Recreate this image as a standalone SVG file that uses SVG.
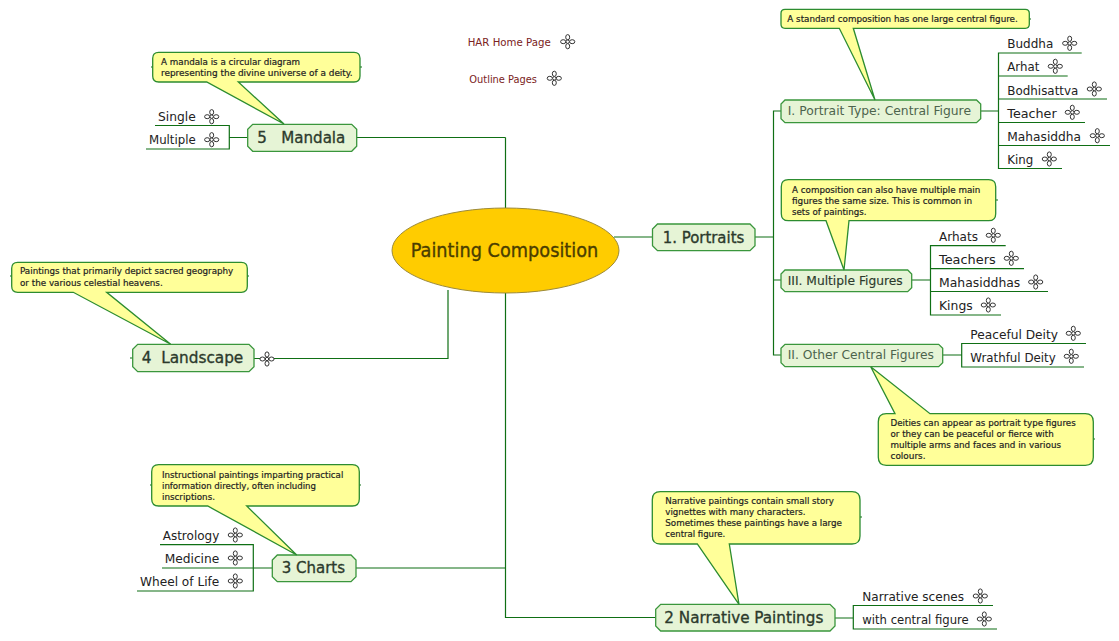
<svg xmlns="http://www.w3.org/2000/svg" width="1119" height="641" viewBox="0 0 1119 641">
<style>
text{font-family:"DejaVu Sans","Liberation Sans",sans-serif;white-space:pre}
.c{fill:none;stroke:#0f6f14;stroke-width:1.2}
.n{fill:#e6f4d6;stroke:#3a963c;stroke-width:1.3}
.b{fill:#ffff99;stroke:#2c8c30;stroke-width:1.3}
.t1{font-size:16px;fill:#2c3a2c;stroke:#2c3a2c;stroke-width:.35}
.t2{font-size:13px;fill:#2c3a2c;stroke:#2c3a2c;stroke-width:.15}
.t2g{font-size:13px;fill:#4d644d}
.l{font-size:13px;fill:#222}
.s{font-size:9px;fill:#222;stroke:#222;stroke-width:.2}
.r{font-size:11px;fill:#7a2222}
</style>
<defs>
<g id="ic" fill="#fff" stroke="#333" stroke-width="1">
<ellipse cx="0" cy="-4.5" rx="2" ry="2.6"/><ellipse cx="0" cy="4.5" rx="2" ry="2.6"/><ellipse cx="-4.5" cy="0" rx="2.6" ry="2"/><ellipse cx="4.5" cy="0" rx="2.6" ry="2"/><circle r="1.7"/>
</g>
</defs>
<g id="connectors" class="c">
<path class="c" d="M505.5 137.5V208M357 137.5H505.5M505.500 293V617.500H655.500M356 568H505.500M254 358.500H448V290M614 237H652M755 237H773.500M781 111H773.500V355H781M773.500 280H781"/>
<path class="c" d="M981 111H998.500M1081.700 53H998.500V168.500H1062M998.500 76H1067.700M998.500 99H1107M998.500 122.500H1085M998.500 145.500H1110"/>
<path class="c" d="M912 280H930.500M1005.700 245.700H930.500V315H1001M930.500 268.700H1024M930.500 291.500H1048"/>
<path class="c" d="M943 355H961.700M1086 343.500H961.700V367H1084"/>
<path class="c" d="M248 137.500H229.300M155 125.500H229.300V149H146"/>
<path class="c" d="M160 544.700H253.300V591H137M162 568H272"/>
<path class="c" d="M835 618H853.300M993 605.500H853.300V629H997"/>
<path class="c" d="M1029 19H1031M996 200H998M1093 439H1095M151 67H153M360 67H362M150 485H152M359 485H361M10 276H12M247 276H249M860 517H862M130 358H133"/>
</g>
<g id="center"><ellipse cx="505.500" cy="250.500" rx="113.500" ry="42.500" fill="#ffcc00" stroke="#9c8a3a" stroke-width="1"/><text x="410.700" y="256.700" font-size="19" fill="#4a3d00" stroke="#4a3d00" stroke-width=".35" textLength="187.600" lengthAdjust="spacingAndGlyphs">Painting Composition</text></g>

<g id="n1"><path class="n" d="M657.500 224H750L755 229V245.700L750 250.700H657.500L652.500 245.700V229Z"/><text class="t1" x="662.700" y="242.700" textLength="81.600" lengthAdjust="spacingAndGlyphs">1. Portraits</text></g>
<g id="nI"><path class="n" d="M785 100H976.500L980.700 104V118.700L976.500 122.700H785L781 118.700V104Z"/><text class="t2g" x="787.700" y="115" textLength="183.300" lengthAdjust="spacingAndGlyphs">I. Portrait Type: Central Figure</text></g>
<g id="nIII"><path class="n" d="M785 270H907.700L911.700 274V287.700L907.700 291.700H785L781 287.700V274Z"/><text class="t2" x="787.700" y="284.700" textLength="115" lengthAdjust="spacingAndGlyphs">III. Multiple Figures</text></g>
<g id="nII"><path class="n" d="M785 344.300H938.700L942.700 348.300V362.700L938.700 366.700H785L781 362.700V348.300Z"/><text class="t2g" x="787.700" y="359.300" textLength="146.300" lengthAdjust="spacingAndGlyphs">II. Other Central Figures</text></g>
<g id="n5"><path class="n" d="M252.700 124.300H351.700L356.700 129.300V146.300L351.700 151.300H252.700L247.700 146.300V129.300Z"/><text class="t1" x="257.300" y="142.700" textLength="88" lengthAdjust="spacingAndGlyphs">5   Mandala</text></g>
<g id="n3"><path class="n" d="M277.300 555H351L356 560V576.700L351 581.700H277.300L272.300 576.700V560Z"/><text class="t1" x="281.700" y="573.300" textLength="63.300" lengthAdjust="spacingAndGlyphs">3 Charts</text></g>
<g id="n4"><path class="n" d="M137.700 344.300H249L254 349.300V366.700L249 371.700H137.700L132.700 366.700V349.300Z"/><text class="t1" x="141.700" y="363.300" textLength="101.600" lengthAdjust="spacingAndGlyphs">4  Landscape</text></g>
<g id="n2"><path class="n" d="M660.700 604.300H830L835 609.300V626L830 631H660.700L655.700 626V609.300Z"/><text class="t1" x="664.300" y="622.700" textLength="159" lengthAdjust="spacingAndGlyphs">2 Narrative Paintings</text></g>

<g id="note-standard"><path class="b" d="M785 9.300H1025.300Q1029.300 9.300 1029.300 13.300V24.300Q1029.300 28.300 1025.300 28.300H853.300L875 100L839.300 28.300H785Q781 28.300 781 24.300V13.300Q781 9.300 785 9.300Z"/><text class="s" x="787.300" y="22" textLength="230.500" lengthAdjust="spacingAndGlyphs">A standard composition has one large central figure.</text></g>
<g id="note-multiple"><path class="b" d="M788.300 179.700H988.700Q995.700 179.700 995.700 186.700V213.700Q995.700 220.700 988.700 220.700H849L844 270L826 220.700H788.300Q781.300 220.700 781.300 213.700V186.700Q781.300 179.700 788.300 179.700Z"/>
<text class="s" x="792" y="192.700" textLength="188.300" lengthAdjust="spacingAndGlyphs">A composition can also have multiple main</text><text class="s" x="792" y="203.700" textLength="180" lengthAdjust="spacingAndGlyphs">figures the same size. This is common in</text><text class="s" x="792" y="214.700" textLength="74.500" lengthAdjust="spacingAndGlyphs">sets of paintings.</text></g>
<g id="note-deities"><path class="b" d="M886.300 413.700H895L870.700 366.700L930 413.700H1085.300Q1093.300 413.700 1093.300 421.700V457.300Q1093.300 465.300 1085.300 465.300H886.300Q878.300 465.300 878.300 457.300V421.700Q878.300 413.700 886.300 413.700Z"/>
<text class="s" x="890.500" y="426.300" textLength="185.200" lengthAdjust="spacingAndGlyphs">Deities can appear as portrait type figures</text><text class="s" x="890.500" y="437.300" textLength="163.200" lengthAdjust="spacingAndGlyphs">or they can be peaceful or fierce with</text><text class="s" x="890.500" y="448.300" textLength="170.500" lengthAdjust="spacingAndGlyphs">multiple arms and faces and in various</text><text class="s" x="890.500" y="459.300" textLength="35" lengthAdjust="spacingAndGlyphs">colours.</text></g>
<g id="note-mandala"><path class="b" d="M158.700 52.300H354Q360 52.300 360 58.300V76Q360 82 354 82H238.300L284 124L206.700 82H158.700Q152.700 82 152.700 76V58.300Q152.700 52.300 158.700 52.300Z"/>
<text class="s" x="161" y="65" textLength="139" lengthAdjust="spacingAndGlyphs">A mandala is a circular diagram</text><text class="s" x="161" y="76.300" textLength="191.700" lengthAdjust="spacingAndGlyphs">representing the divine universe of a deity.</text></g>
<g id="note-charts"><path class="b" d="M158.700 464.700H352.300Q359.300 464.700 359.300 471.700V499Q359.300 506 352.300 506H246.700L296.700 555L207.700 506H158.700Q151.700 506 151.700 499V471.700Q151.700 464.700 158.700 464.700Z"/>
<text class="s" x="162" y="478" textLength="181.300" lengthAdjust="spacingAndGlyphs">Instructional paintings imparting practical</text><text class="s" x="162" y="489" textLength="154" lengthAdjust="spacingAndGlyphs">information directly, often including</text><text class="s" x="162" y="500" textLength="53" lengthAdjust="spacingAndGlyphs">inscriptions.</text></g>
<g id="note-landscape"><path class="b" d="M17.700 262.300H241.300Q247.300 262.300 247.300 268.300V286.300Q247.300 292.300 241.300 292.300H106.700L170.700 344.300L73.300 292.300H17.700Q11.700 292.300 11.700 286.300V268.300Q11.700 262.300 17.700 262.300Z"/>
<text class="s" x="20" y="274.300" textLength="213.300" lengthAdjust="spacingAndGlyphs">Paintings that primarily depict sacred geography</text><text class="s" x="20" y="285.500" textLength="142.700" lengthAdjust="spacingAndGlyphs">or the various celestial heavens.</text></g>
<g id="note-narrative"><path class="b" d="M660.300 491.700H852Q860 491.700 860 499.700V536Q860 544 852 544H729.300L739 604.300L697.300 544H660.300Q652.300 544 652.300 536V499.700Q652.300 491.700 660.300 491.700Z"/>
<text class="s" x="665.300" y="504.300" textLength="168.700" lengthAdjust="spacingAndGlyphs">Narrative paintings contain small story</text><text class="s" x="665.300" y="515.300" textLength="140.200" lengthAdjust="spacingAndGlyphs">vignettes with many characters.</text><text class="s" x="665.300" y="526.300" textLength="176.700" lengthAdjust="spacingAndGlyphs">Sometimes these paintings have a large</text><text class="s" x="665.300" y="537.300" textLength="60" lengthAdjust="spacingAndGlyphs">central figure.</text></g>

<g id="leaf-buddha"><text class="l" x="1007.300" y="48.300" textLength="46" lengthAdjust="spacingAndGlyphs">Buddha</text><use href="#ic" x="1069.700" y="43.300"/></g>
<g id="leaf-arhat"><text class="l" x="1007.300" y="71.300" textLength="32" lengthAdjust="spacingAndGlyphs">Arhat</text><use href="#ic" x="1055.300" y="66.300"/></g>
<g id="leaf-bodhisattva"><text class="l" x="1007.300" y="94.700" textLength="71" lengthAdjust="spacingAndGlyphs">Bodhisattva</text><use href="#ic" x="1094.300" y="89"/></g>
<g id="leaf-teacher"><text class="l" x="1007.300" y="117.700" textLength="49.400" lengthAdjust="spacingAndGlyphs">Teacher</text><use href="#ic" x="1072.300" y="112.300"/></g>
<g id="leaf-mahasiddha"><text class="l" x="1007.300" y="141" textLength="73.700" lengthAdjust="spacingAndGlyphs">Mahasiddha</text><use href="#ic" x="1097.300" y="135.700"/></g>
<g id="leaf-king"><text class="l" x="1007.300" y="164" textLength="26" lengthAdjust="spacingAndGlyphs">King</text><use href="#ic" x="1049.300" y="159"/></g>
<g id="leaf-arhats"><text class="l" x="939" y="241" textLength="39" lengthAdjust="spacingAndGlyphs">Arhats</text><use href="#ic" x="993.300" y="235.300"/></g>
<g id="leaf-teachers"><text class="l" x="939" y="264" textLength="56.700" lengthAdjust="spacingAndGlyphs">Teachers</text><use href="#ic" x="1011.300" y="258.300"/></g>
<g id="leaf-mahasiddhas"><text class="l" x="939" y="287" textLength="81.300" lengthAdjust="spacingAndGlyphs">Mahasiddhas</text><use href="#ic" x="1035.700" y="282"/></g>
<g id="leaf-kings"><text class="l" x="939" y="310" textLength="33.700" lengthAdjust="spacingAndGlyphs">Kings</text><use href="#ic" x="988.300" y="305"/></g>
<g id="leaf-peaceful"><text class="l" x="970.300" y="338.700" textLength="87.700" lengthAdjust="spacingAndGlyphs">Peaceful Deity</text><use href="#ic" x="1073.300" y="333.300"/></g>
<g id="leaf-wrathful"><text class="l" x="970.300" y="361.700" textLength="85.400" lengthAdjust="spacingAndGlyphs">Wrathful Deity</text><use href="#ic" x="1071.300" y="356.300"/></g>
<g id="leaf-single"><text class="l" x="158" y="121" textLength="37.700" lengthAdjust="spacingAndGlyphs">Single</text><use href="#ic" x="211.700" y="116.700"/></g>
<g id="leaf-multiple"><text class="l" x="149" y="144" textLength="46.700" lengthAdjust="spacingAndGlyphs">Multiple</text><use href="#ic" x="211.700" y="139.700"/></g>
<g id="leaf-astrology"><text class="l" x="162.700" y="540" textLength="56.600" lengthAdjust="spacingAndGlyphs">Astrology</text><use href="#ic" x="235.300" y="535"/></g>
<g id="leaf-medicine"><text class="l" x="164.700" y="563" textLength="54.600" lengthAdjust="spacingAndGlyphs">Medicine</text><use href="#ic" x="235.300" y="558"/></g>
<g id="leaf-wheel"><text class="l" x="140" y="586" textLength="79.300" lengthAdjust="spacingAndGlyphs">Wheel of Life</text><use href="#ic" x="235.300" y="581"/></g>
<g id="leaf-scenes"><text class="l" x="862.300" y="601" textLength="101.700" lengthAdjust="spacingAndGlyphs">Narrative scenes</text><use href="#ic" x="980.300" y="596"/></g>
<g id="leaf-central"><text class="l" x="862.300" y="624" textLength="106.400" lengthAdjust="spacingAndGlyphs">with central figure</text><use href="#ic" x="984.300" y="619"/></g>
<g id="landscape-link"><use href="#ic" x="267" y="359"/></g>
<g id="link-home"><text class="r" x="467.700" y="46" textLength="83" lengthAdjust="spacingAndGlyphs">HAR Home Page</text><use href="#ic" x="567.700" y="41.700"/></g>
<g id="link-outline"><text class="r" x="469.300" y="83" textLength="67.700" lengthAdjust="spacingAndGlyphs">Outline Pages</text><use href="#ic" x="554.300" y="78.300"/></g>
</svg>
